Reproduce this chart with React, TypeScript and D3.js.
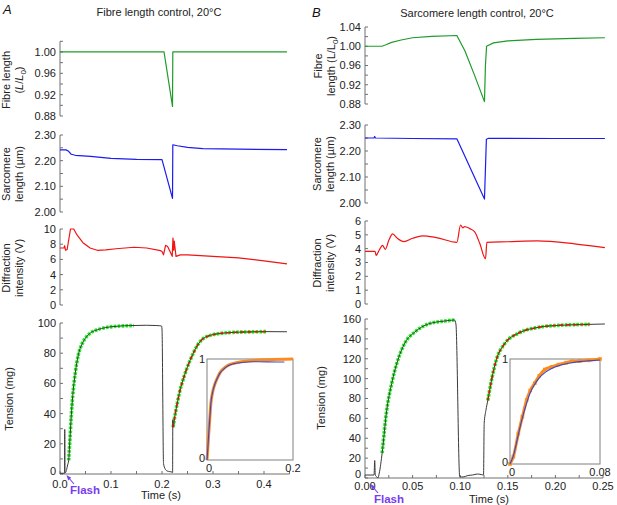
import React from "react";
import * as d3 from "d3";

type P = [number, number];

// ---------- Panel A (fibre length control) ----------
const fibreA: P[] = [[0, 1.0], [0.204, 1.0], [0.2206, 0.898], [0.2212, 1.0], [0.445, 1.0]];
const sarcA: P[] = [[0, 2.242], [0.012, 2.242], [0.016, 2.238], [0.022, 2.225], [0.03, 2.221], [0.06, 2.217], [0.1, 2.209], [0.15, 2.205], [0.2, 2.204], [0.2206, 2.053], [0.2212, 2.262], [0.23, 2.258], [0.25, 2.252], [0.28, 2.247], [0.35, 2.245], [0.445, 2.243]];
const diffA: P[] = [[0, 7.5], [0.008, 7.5], [0.009, 7.8], [0.011, 7.2], [0.014, 7.3], [0.0206, 10.0], [0.027, 10.0], [0.033, 9.25], [0.045, 8.2], [0.059, 7.5], [0.073, 7.2], [0.09, 7.25], [0.11, 7.4], [0.145, 7.6], [0.17, 7.5], [0.197, 7.15], [0.2, 7.05], [0.203, 6.6], [0.207, 7.85], [0.211, 7.7], [0.216, 7.0], [0.22, 6.4], [0.2215, 8.8], [0.223, 7.2], [0.224, 8.4], [0.2275, 6.4], [0.236, 6.6], [0.25, 6.6], [0.3, 6.4], [0.35, 6.2], [0.4, 5.8], [0.445, 5.4]];
const tensA: P[] = [[0, 0.5], [0.009, 0.5], [0.0093, 29.5], [0.0097, 1], [0.011, 1], [0.013, 3], [0.015, 6], [0.017, 9], [0.019, 20], [0.022, 38], [0.025, 52], [0.03, 67], [0.036, 79], [0.043, 86], [0.05, 90], [0.06, 93.5], [0.073, 95.5], [0.09, 97], [0.106, 97.7], [0.138, 98.3], [0.17, 98.5], [0.19, 98.3], [0.199, 98], [0.2, 96], [0.203, 7], [0.206, 3.5], [0.21, 2], [0.215, 1.6], [0.22, 1.2], [0.2208, 1], [0.2212, 36], [0.2218, 31], [0.225, 38], [0.23, 47], [0.235, 55], [0.24, 61], [0.25, 71], [0.26, 79], [0.27, 85.5], [0.28, 89.5], [0.29, 91.3], [0.3, 92.3], [0.32, 93.3], [0.34, 93.8], [0.37, 94.1], [0.4, 94.3], [0.445, 94.2]];
const riseA1: P[] = [[0.017, 9], [0.019, 20], [0.022, 38], [0.025, 52], [0.03, 67], [0.036, 79], [0.043, 86], [0.05, 90], [0.06, 93.5], [0.073, 95.5], [0.09, 97], [0.106, 97.7], [0.125, 98.1], [0.145, 98.3]];
const riseA2: P[] = [[0.2218, 31], [0.225, 38], [0.23, 47], [0.235, 55], [0.24, 61], [0.25, 71], [0.26, 79], [0.27, 85.5], [0.28, 89.5], [0.29, 91.3], [0.3, 92.3], [0.32, 93.3], [0.34, 93.8], [0.37, 94.1], [0.405, 94.3]];
const insetAOrange: P[] = [[0, 0], [0.002, 0.12], [0.004, 0.26], [0.006, 0.38], [0.009, 0.56], [0.013, 0.67], [0.019, 0.76], [0.025, 0.82], [0.031, 0.87], [0.04, 0.91], [0.05, 0.94], [0.0615, 0.957], [0.08, 0.972], [0.108, 0.985], [0.14, 0.993], [0.2, 1.0]];
const insetABlue: P[] = [[0, 0], [0.002, 0.12], [0.004, 0.26], [0.006, 0.38], [0.009, 0.56], [0.013, 0.67], [0.019, 0.76], [0.025, 0.82], [0.031, 0.865], [0.04, 0.905], [0.05, 0.935], [0.0615, 0.952], [0.08, 0.965], [0.108, 0.973], [0.14, 0.972], [0.18, 0.97]];

// ---------- Panel B (sarcomere length control) ----------
const fibreB: P[] = [[0, 1.0], [0.0177, 1.0], [0.022, 1.003], [0.028, 1.008], [0.038, 1.013], [0.05, 1.0177], [0.07, 1.0205], [0.0965, 1.0223], [0.105, 0.99], [0.115, 0.94], [0.1255, 0.885], [0.1265, 0.96], [0.1277, 1.0], [0.135, 1.007], [0.15, 1.011], [0.18, 1.0144], [0.22, 1.0165], [0.252, 1.0177]];
const sarcB: P[] = [[0, 2.25], [0.0095, 2.25], [0.0102, 2.256], [0.011, 2.25], [0.05, 2.248], [0.0965, 2.247], [0.1255, 2.015], [0.1275, 2.245], [0.13, 2.249], [0.2, 2.248], [0.252, 2.248]];
const diffB: P[] = [[0, 3.8], [0.0106, 3.8], [0.0117, 3.51], [0.015, 3.9], [0.0184, 4.24], [0.0213, 3.95], [0.025, 4.6], [0.029, 5.07], [0.034, 4.75], [0.0408, 4.51], [0.05, 4.75], [0.0603, 4.93], [0.075, 4.8], [0.0965, 4.46], [0.1004, 5.71], [0.1028, 5.5], [0.1046, 5.6], [0.11, 5.45], [0.1152, 5.22], [0.1206, 4.37], [0.1266, 3.27], [0.128, 4.46], [0.15, 4.5], [0.181, 4.56], [0.22, 4.35], [0.252, 4.07]];
const tensB: P[] = [[0, 3], [0.0095, 3], [0.0102, 17.6], [0.0108, 3], [0.0125, 1], [0.0135, 0], [0.015, 5], [0.018, 25], [0.0228, 68], [0.028, 95], [0.0333, 115], [0.042, 136], [0.0525, 147], [0.0665, 155], [0.084, 158], [0.094, 159], [0.0955, 155], [0.0995, 1.5], [0.103, 1], [0.108, 2.5], [0.113, 3], [0.118, 4], [0.122, 3.5], [0.1245, 3], [0.1252, 55], [0.127, 68], [0.129, 78], [0.133, 99], [0.138, 119], [0.147, 135.5], [0.161, 145.6], [0.182, 151.6], [0.203, 153.6], [0.236, 154.6], [0.252, 155]];
const riseB1: P[] = [[0.018, 25], [0.0228, 68], [0.028, 95], [0.0333, 115], [0.042, 136], [0.0525, 147], [0.0665, 155], [0.084, 158], [0.094, 159]];
const riseB2: P[] = [[0.129, 78], [0.133, 99], [0.138, 119], [0.147, 135.5], [0.161, 145.6], [0.182, 151.6], [0.203, 153.6], [0.236, 154.6]];
const insetBOrange: P[] = [[0, 0], [0.003, 0.07], [0.0074, 0.29], [0.011, 0.45], [0.0148, 0.61], [0.018, 0.7], [0.022, 0.77], [0.026, 0.84], [0.031, 0.9], [0.037, 0.925], [0.043, 0.946], [0.05, 0.965], [0.055, 0.978], [0.062, 0.982], [0.07, 0.987], [0.08, 1.0]];
const insetBBlue: P[] = [[0, 0], [0.003, 0.08], [0.0074, 0.28], [0.011, 0.44], [0.0148, 0.58], [0.018, 0.68], [0.022, 0.76], [0.026, 0.82], [0.031, 0.87], [0.037, 0.91], [0.043, 0.935], [0.05, 0.955], [0.055, 0.965], [0.062, 0.975], [0.07, 0.983], [0.08, 0.99]];

// ---------- ticks ----------
const fibreTicksA = [0.88, 0.92, 0.96, 1.0];
const fibreTicksB = [0.88, 0.92, 0.96, 1.0, 1.04];
const fibreMinor = [0.9, 0.94, 0.98, 1.02];
const sarcTicks = [2.0, 2.1, 2.2, 2.3];
const sarcMinor = [2.05, 2.15, 2.25];
const diffTicksA = [0, 2, 4, 6, 8, 10];
const diffTicksB = [0, 1, 2, 3, 4, 5, 6];
const tensTicksA = [0, 20, 40, 60, 80, 100];
const tensMinorA = [10, 30, 50, 70, 90];
const tensTicksB = [0, 20, 40, 60, 80, 100, 120, 140, 160];
const tensMinorB = [10, 30, 50, 70, 90, 110, 130, 150];
const timeTicksA = [0, 0.1, 0.2, 0.3, 0.4];
const timeMinorA = [0.05, 0.15, 0.25, 0.35, 0.45];
const timeTicksB = [0, 0.05, 0.1, 0.15, 0.2, 0.25];
const timeMinorB = [0.025, 0.075, 0.125, 0.175, 0.225];

const FONT = "'Liberation Sans', Arial, Helvetica, sans-serif";
const AX = "#707070";
const GREEN = "#1f9b2a";
const BLUE = "#1c1cf0";
const RED = "#f01414";
const TRACE = "#3a3a3a";
const LIME = "#22f022";
const ORANGE = "#ff8a1a";
const PURPLE = "#7a3cf0";

type Sc = d3.ScaleLinear<number, number>;

function Trace({ data, x, y, stroke, width = 1, dash, smooth = false }: { data: P[]; x: Sc; y: Sc; stroke: string; width?: number; dash?: string; smooth?: boolean }) {
  const gen = d3.line<P>().x((d) => x(d[0])).y((d) => y(d[1])).curve(smooth ? d3.curveMonotoneX : d3.curveLinear);
  return <path d={gen(data) || ""} fill="none" stroke={stroke} strokeWidth={width} strokeDasharray={dash} strokeLinejoin="round" strokeLinecap="butt" />;
}

function YAxis({ y, x, major, minor = [], fmt, bottomNudge = 0 }: { y: Sc; x: number; major: number[]; minor?: number[]; fmt: (v: number) => string; bottomNudge?: number }) {
  const [d0, d1] = y.domain();
  return (
    <g>
      <line x1={x} x2={x} y1={y(d0)} y2={y(d1)} stroke={AX} strokeWidth={1} />
      {minor.map((v, i) => (
        <line key={"m" + i} x1={x} x2={x + 3} y1={y(v)} y2={y(v)} stroke={AX} />
      ))}
      {major.map((v, i) => (
        <g key={"M" + i}>
          <line x1={x} x2={x + 3} y1={y(v)} y2={y(v)} stroke={AX} />
          <text x={x - 4} y={y(v) - (i === 0 ? bottomNudge : 0)} dy="0.36em" textAnchor="end" fontSize={11} fill="#222">{fmt(v)}</text>
        </g>
      ))}
    </g>
  );
}

function XAxis({ x, y0, major, minor, fmt, labelY }: { x: Sc; y0: number; major: number[]; minor: number[]; fmt: (v: number) => string; labelY: number }) {
  const [r0, r1] = x.range();
  return (
    <g>
      <line x1={r0} x2={r1} y1={y0} y2={y0} stroke={AX} />
      {minor.map((v, i) => (
        <line key={"m" + i} x1={x(v)} x2={x(v)} y1={y0} y2={y0 - 3} stroke={AX} />
      ))}
      {major.map((v, i) => (
        <g key={"M" + i}>
          <line x1={x(v)} x2={x(v)} y1={y0} y2={y0 - 3} stroke={AX} />
          <text x={x(v)} y={labelY} textAnchor="middle" fontSize={11} fill="#222">{fmt(v)}</text>
        </g>
      ))}
    </g>
  );
}

function VLabel({ x, cy, children }: { x: number; cy: number; children: React.ReactNode }) {
  return (
    <text transform={`translate(${x},${cy}) rotate(-90)`} textAnchor="middle" fontSize={11} fill="#222">
      {children}
    </text>
  );
}

function Inset({ x, y, orange, blue, xMaxLabel, markers }: { x: Sc; y: Sc; orange: P[]; blue: P[]; xMaxLabel: string; markers: boolean }) {
  const [x0, x1] = x.range();
  const [yb, yt] = y.range();
  return (
    <g>
      <rect x={x0} y={yt} width={x1 - x0} height={yb - yt} fill="white" stroke="#808080" strokeWidth={1} />
      <Trace data={orange} x={x} y={y} stroke={ORANGE} width={3} smooth />
      {markers && orange.map((d, i) => <rect key={i} x={x(d[0]) - 1.8} y={y(d[1]) - 1.8} width={3.6} height={3.6} fill={ORANGE} />)}
      <Trace data={blue} x={x} y={y} stroke="#3348d8" width={1.1} smooth />
      <text x={x0 - 2} y={yt} dy="0.36em" textAnchor="end" fontSize={11} fill="#222">1</text>
      <text x={x0 - 2} y={yb - 2} dy="0.36em" textAnchor="end" fontSize={11} fill="#222">0</text>
      <text x={x0 + 2} y={yb + 12} textAnchor="middle" fontSize={11} fill="#222">0</text>
      <text x={x1} y={yb + 12} textAnchor="middle" fontSize={11} fill="#222">{xMaxLabel}</text>
    </g>
  );
}

function Flash({ x, y }: { x: number; y: number }) {
  return (
    <g>
      <text x={x} y={y} fontSize={11.5} fontWeight="bold" fill={PURPLE}>Flash</text>
      <line x1={x + 4} y1={y - 10} x2={x - 2} y2={y - 17} stroke={PURPLE} strokeWidth={1.1} />
      <path d={`M${x - 3.5},${y - 19} L${x + 1.2},${y - 16.2} L${x - 1.8},${y - 13.6} Z`} fill={PURPLE} />
    </g>
  );
}

function Sub0() {
  return (
    <>
      <tspan fontSize={8} dy={2.5}>0</tspan>
      <tspan dy={-2.5}>)</tspan>
    </>
  );
}

export default function App() {
  // Column A
  const xA = d3.scaleLinear().domain([0, 0.45]).range([60, 289.5]);
  const yFA = d3.scaleLinear().domain([0.88, 1.02]).range([116, 41.3]);
  const ySA = d3.scaleLinear().domain([2.0, 2.3]).range([212, 135]);
  const yDA = d3.scaleLinear().domain([0, 10]).range([305, 229]);
  const yTA = d3.scaleLinear().domain([0, 100]).range([474, 323]);
  const xIA = d3.scaleLinear().domain([0, 0.2]).range([207, 293]);
  const yIA = d3.scaleLinear().domain([0, 1]).range([460, 359]);

  // Column B
  const xB = d3.scaleLinear().domain([0, 0.25]).range([365, 603]);
  const yFB = d3.scaleLinear().domain([0.88, 1.04]).range([104, 27]);
  const ySB = d3.scaleLinear().domain([2.0, 2.3]).range([203, 125]);
  const yDB = d3.scaleLinear().domain([0, 6]).range([304, 221]);
  const yTB = d3.scaleLinear().domain([0, 160]).range([478, 319]);
  const xIB = d3.scaleLinear().domain([0, 0.08]).range([510, 600]);
  const yIB = d3.scaleLinear().domain([0, 1]).range([464, 359]);

  const f2 = (v: number) => v.toFixed(2);
  const f0 = (v: number) => String(v);
  const f1 = (v: number) => v.toFixed(1);

  return (
    <svg width={617} height={505} style={{ position: "absolute", left: 0, top: 0, background: "white" }} fontFamily={FONT}>
      <rect x={0} y={0} width={617} height={505} fill="white" />
      {/* Panel letters & titles */}
      <text x={3} y={14} fontSize={13} fontStyle="italic" fill="#111">A</text>
      <text x={312} y={17} fontSize={13} fontStyle="italic" fill="#111">B</text>
      <text x={159} y={16} textAnchor="middle" fontSize={11} fill="#222">Fibre length control, 20°C</text>
      <text x={477} y={17} textAnchor="middle" fontSize={11} fill="#222">Sarcomere length control, 20°C</text>

      {/* ===== Column A ===== */}
      <YAxis y={yFA} x={60} major={fibreTicksA} minor={fibreMinor} fmt={f2} />
      <Trace data={fibreA} x={xA} y={yFA} stroke={GREEN} width={1.2} />
      <VLabel x={10} cy={80}>Fibre length</VLabel>
      <VLabel x={23} cy={80}>(<tspan fontStyle="italic">L</tspan>/<tspan fontStyle="italic">L</tspan><Sub0 /></VLabel>

      <YAxis y={ySA} x={60} major={sarcTicks} minor={sarcMinor} fmt={f2} />
      <Trace data={sarcA} x={xA} y={ySA} stroke={BLUE} width={1.2} />
      <VLabel x={10} cy={174}>Sarcomere</VLabel>
      <VLabel x={23} cy={174}>length (µm)</VLabel>

      <YAxis y={yDA} x={60} major={diffTicksA} fmt={f0} />
      <Trace data={diffA} x={xA} y={yDA} stroke={RED} width={1.2} />
      <VLabel x={10} cy={268}>Diffraction</VLabel>
      <VLabel x={23} cy={268}>intensity (V)</VLabel>

      <YAxis y={yTA} x={60} major={tensTicksA} minor={tensMinorA} fmt={f0} bottomNudge={3} />
      <XAxis x={xA} y0={474} major={timeTicksA} minor={timeMinorA} fmt={f1} labelY={488} />
      <Trace data={riseA1} x={xA} y={yTA} stroke={LIME} width={3.6} dash="2.6 1.3" smooth />
      <Trace data={riseA2} x={xA} y={yTA} stroke={LIME} width={3.6} dash="2.6 1.3" smooth />
      <Trace data={tensA} x={xA} y={yTA} stroke={TRACE} width={1} smooth />
      <Trace data={riseA2} x={xA} y={yTA} stroke="#e01010" width={1.6} dash="4 3" smooth />
      <VLabel x={13} cy={399}>Tension (mg)</VLabel>
      <Inset x={xIA} y={yIA} orange={insetAOrange} blue={insetABlue} xMaxLabel="0.2" markers={false} />
      <Flash x={70} y={494} />
      <text x={161} y={499} textAnchor="middle" fontSize={11} fill="#222">Time (s)</text>

      {/* ===== Column B ===== */}
      <YAxis y={yFB} x={365} major={fibreTicksB} minor={fibreMinor} fmt={f2} />
      <Trace data={fibreB} x={xB} y={yFB} stroke={GREEN} width={1.2} />
      <VLabel x={322} cy={66}>Fibre</VLabel>
      <VLabel x={335} cy={66}>length (L/L<Sub0 /></VLabel>

      <YAxis y={ySB} x={365} major={sarcTicks} minor={sarcMinor} fmt={f2} />
      <Trace data={sarcB} x={xB} y={ySB} stroke={BLUE} width={1.2} />
      <VLabel x={321} cy={164}>Sarcomere</VLabel>
      <VLabel x={334} cy={164}>length (µm)</VLabel>

      <YAxis y={yDB} x={365} major={diffTicksB} fmt={f0} />
      <Trace data={diffB} x={xB} y={yDB} stroke={RED} width={1.2} smooth />
      <VLabel x={321} cy={263}>Diffraction</VLabel>
      <VLabel x={334} cy={263}>intensity (V)</VLabel>

      <YAxis y={yTB} x={365} major={tensTicksB} minor={tensMinorB} fmt={f0} bottomNudge={4} />
      <XAxis x={xB} y0={478} major={timeTicksB} minor={timeMinorB} fmt={f2} labelY={490} />
      <Trace data={riseB1} x={xB} y={yTB} stroke={LIME} width={3.6} dash="2.6 1.3" smooth />
      <Trace data={riseB2} x={xB} y={yTB} stroke={LIME} width={3.6} dash="2.6 1.3" smooth />
      <Trace data={tensB} x={xB} y={yTB} stroke={TRACE} width={1} smooth />
      <Trace data={riseB2} x={xB} y={yTB} stroke="#e01010" width={1.6} dash="4 3" smooth />
      <VLabel x={325} cy={398}>Tension (mg)</VLabel>
      <Inset x={xIB} y={yIB} orange={insetBOrange} blue={insetBBlue} xMaxLabel="0.08" markers />
      <Flash x={374} y={503} />
      <text x={489} y={503} textAnchor="middle" fontSize={11} fill="#222">Time (s)</text>
    </svg>
  );
}
